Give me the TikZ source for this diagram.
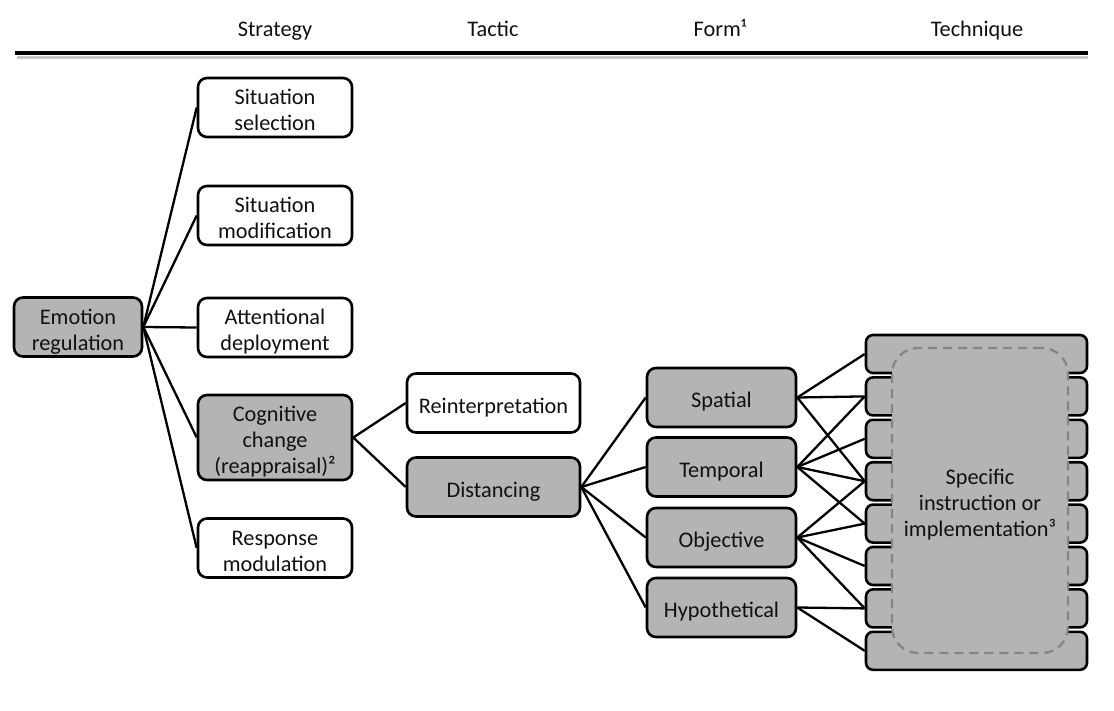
\documentclass[tikz,border=0pt]{standalone}
\usepackage{fontspec}
\setmainfont{Carlito}
\definecolor{boxgray}{HTML}{B4B4B4}
\definecolor{dashgray}{HTML}{858585}
\definecolor{txt}{HTML}{111111}
\begin{document}
\begin{tikzpicture}[x=1pt,y=-1pt,
  every node/.style={font=\fontsize{22.3}{26}\selectfont, text=txt},
  one/.style={text height=26pt, text depth=6pt},
  two/.style={text height=52pt, text depth=6pt},
  three/.style={text height=78pt, text depth=6pt},
  basebox/.style={draw=black, line width=2.6pt, rounded corners=9pt, align=center, inner sep=0pt},
  wbox/.style={basebox, fill=white, minimum width=154pt, minimum height=59pt},
  gbox/.style={basebox, fill=boxgray, minimum width=154pt, minimum height=59pt},
  tbox/.style={basebox, fill=boxgray, minimum width=221pt, minimum height=38pt, rounded corners=7pt},
  conn/.style={draw=black, line width=2.3pt},
  head/.style={anchor=base}]
\useasboundingbox (0,0) rectangle (1114,710);

% header
\node[head] (hs) at (275,36) {Strategy};
\node[head] (ht) at (493,36) {Tactic};
\node[head] (hf) at (720,36) {Form¹};
\node[head] (hq) at (977,36) {Technique};
\coordinate (hl) at (15,53);
\coordinate (hr) at (1088,53);
\coordinate (shl) at (17,57);
\coordinate (shr) at (1088,57);
\draw[line width=3pt, black!22] (shl) -- (shr);
\draw[line width=3.5pt, black] (hl) -- (hr);

% strategy column
\node[gbox, two, minimum width=128pt] (er) at (78,327) {Emotion\\regulation};
\node[wbox, two] (ss) at (275,107.5) {Situation\\selection};
\node[wbox, two] (sm) at (275,215.5) {Situation\\modification};
\node[wbox, two] (ad) at (275,327.5) {Attentional\\deployment};
\node[gbox, three, minimum height=85pt] (cc) at (275,437.5) {Cognitive\\change\\(reappraisal)²};
\node[wbox, two] (rm) at (275,548) {Response\\modulation};

% tactic column
\node[wbox, one, minimum width=173pt] (ri) at (493.5,403) {Reinterpretation};
\node[gbox, one, minimum width=173pt] (di) at (493.5,487) {Distancing};

% form column
\node[gbox, one, minimum width=149pt] (sp) at (721.5,397.5) {Spatial};
\node[gbox, one, minimum width=149pt] (te) at (721.5,467) {Temporal};
\node[gbox, one, minimum width=149pt] (ob) at (721.5,537.5) {Objective};
\node[gbox, one, minimum width=149pt] (hy) at (721.5,607.5) {Hypothetical};

% technique column
\foreach \i in {1,...,8}{
  \node[tbox] (t\i) at (976.5,{354+42.4*(\i-1)}) {};
}
\node[three, draw=dashgray, line width=2.3pt, dash pattern=on 9pt off 6pt, fill=boxgray,
      rounded corners=26pt, minimum width=176pt, minimum height=305pt, align=center, inner sep=0pt]
      (spec) at (980,500.5) {Specific\\instruction or\\implementation³};

% connectors
\foreach \t in {ss,sm,ad,cc,rm}{ \draw[conn] (er.east) -- (\t.west); }
\draw[conn] (cc.east) -- (ri.west);
\draw[conn] (cc.east) -- (di.west);
\foreach \t in {sp,te,ob,hy}{ \draw[conn] (di.east) -- (\t.west); }
\foreach \t in {1,2,4}{ \draw[conn] (sp.east) -- (t\t.west); }
\foreach \t in {2,3,4,5}{ \draw[conn] (te.east) -- (t\t.west); }
\foreach \t in {4,5,6,7}{ \draw[conn] (ob.east) -- (t\t.west); }
\foreach \t in {7,8}{ \draw[conn] (hy.east) -- (t\t.west); }
\end{tikzpicture}
\end{document}
